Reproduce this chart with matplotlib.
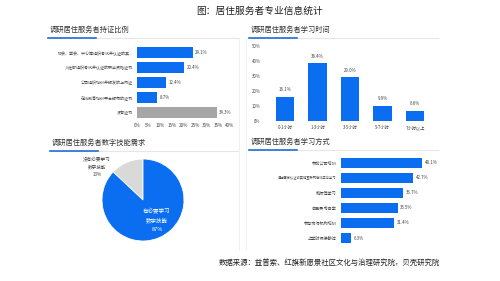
import matplotlib
matplotlib.use("Agg")
import matplotlib.pyplot as plt
from matplotlib.lines import Line2D
import numpy as np

plt.rcParams['font.family'] = ['Noto Sans CJK SC', 'DejaVu Sans']

# data
cert_labels = ['协会、学会、中心等组织考试并认证的其...', '人社部组织考试并认证的职业资格证书',
               '公司组织培训并颁发的上岗证', '在线教育培训平台颁布的证书', '没有证书']
cert_values = [24.1, 20.4, 12.4, 8.7, 34.3]
cert_ticks = [0, 5, 10, 15, 20, 25, 30, 35, 40]

time_labels = ['0-1小时', '1-3小时', '3-5小时', '5-7小时', '7小时以上']
time_values = [16.1, 38.4, 29.0, 9.9, 6.6]
time_ticks = [0, 10, 20, 30, 40, 50]

pie_labels = ['没有必要学习\n数字技能\n13%', '有必要学习\n数字技能\n87%']
pie_values = [13, 87]

way_labels = ['参加公司培训', '通过国家认证或其他互联网在线平台学习', '和师傅学习',
              '自己买书自学', '参与市场机构培训', '上学时候接触过']
way_values = [48.1, 42.7, 36.7, 33.5, 31.4, 6.3]

BLUE = '#0b6ef0'
GREY = '#a6a6a6'
TXT = '#444444'

W, H = 500, 281
fig = plt.figure(figsize=(5, 2.81), dpi=100)


def px_axes(x0, y0, x1, y1):
    # pixel box (top-left origin) -> figure axes
    return fig.add_axes([x0 / W, 1 - y1 / H, (x1 - x0) / W, (y1 - y0) / H])


def fig_line(x0, x1, y, color, lw):
    fig.add_artist(Line2D([x0 / W, x1 / W], [1 - y / H, 1 - y / H],
                          color=color, lw=lw, transform=fig.transFigure))


def header(text, x, y, x_end):
    fig.text(x / W, 1 - y / H, text, fontsize=5.2, color='#333333', va='center', ha='left')
    fig_line(x - 2, x_end, y + 8, '#e6e6e6', 0.8)
    fig_line(x - 2, x + 46, y + 8, '#1f6fd6', 1.2)


fig.text(260 / W, 1 - 11 / H, '图：居住服务者专业信息统计', fontsize=7, color='#222222',
         ha='center', va='center')

header('调研居住服务者持证比例', 50, 30, 238)
header('调研居住服务者学习时间', 251, 30, 438)
header('调研居住服务者数字技能需求', 52, 143, 238)
header('调研居住服务者学习方式', 251, 142, 438)

# light card borders
for xb in (239, 246):
    fig.add_artist(Line2D([xb / W, xb / W], [1 - 38 / H, 1 - 250 / H], color='#eeeeee', lw=0.6,
                          transform=fig.transFigure))

# panel 1: certificates
ax1 = px_axes(137, 45.2, 230, 120.2)
y = np.arange(len(cert_values))
colors = [BLUE] * (len(cert_values) - 1) + [GREY]
ax1.barh(y, cert_values, height=0.74, color=colors)
ax1.set_xlim(0, 40)
ax1.set_ylim(len(cert_values) - 0.5, -0.5)
ax1.set_xticks(cert_ticks)
ax1.set_xticklabels([f'{t}%' for t in cert_ticks])
ax1.set_yticks(y)
ax1.set_yticklabels(cert_labels)
for yi, v in zip(y, cert_values):
    ax1.text(v + 1, yi, f'{v}%', fontsize=3.2, color=TXT, va='center')
ax1.tick_params(axis='x', length=0, labelsize=3.3, labelcolor=TXT, pad=2)
ax1.tick_params(axis='y', length=0, labelsize=2.9, labelcolor=TXT, pad=3)
for s in ax1.spines.values():
    s.set_visible(False)

# panel 2: study time
ax2 = px_axes(268.75, 45.7, 431.25, 120.7)
x = np.arange(len(time_values))
ax2.bar(x, time_values, width=0.56, color=BLUE)
ax2.set_ylim(0, 50)
ax2.set_xlim(-0.5, len(time_values) - 0.5)
ax2.set_yticks(time_ticks)
ax2.set_yticklabels([f'{t}%' for t in time_ticks])
ax2.set_xticks(x)
ax2.set_xticklabels(time_labels)
for xi, v in zip(x, time_values):
    ax2.text(xi, v + 3, f'{v:.1f}%', fontsize=3.2, color=TXT, ha='center', va='bottom')
ax2.tick_params(axis='x', length=0, labelsize=3.1, labelcolor=TXT, pad=3)
ax2.tick_params(axis='y', length=0, labelsize=3.1, labelcolor=TXT, pad=6)
for s in ax2.spines.values():
    s.set_visible(False)
ax2.axhline(0, color='#dddddd', lw=0.6)

# panel 3: pie
ax3 = px_axes(102, 159, 184, 241)
ax3.pie(pie_values, colors=['#d9d9d9', BLUE], startangle=90, counterclock=True,
        wedgeprops=dict(edgecolor='white', linewidth=0.6))
ax3.set_xlim(-1, 1)
ax3.set_ylim(-1, 1)
ax3.text(-1.12, 0.80, pie_labels[0], fontsize=3.3, color=TXT, ha='center', va='center',
         linespacing=1.6)
ax3.text(0.34, -0.49, pie_labels[1], fontsize=4.0, color='white', ha='center', va='center',
         linespacing=1.7)

# panel 4: study ways
ax4 = px_axes(340.7, 155.1, 425.7, 245.6)
y = np.arange(len(way_values))
ax4.barh(y, way_values, height=0.66, color=BLUE)
ax4.set_xlim(0, 50)
ax4.set_ylim(len(way_values) - 0.5, -0.5)
ax4.set_yticks(y)
ax4.set_yticklabels(way_labels)
ax4.set_xticks([])
for yi, v in zip(y, way_values):
    ax4.text(v + 1.5, yi, f'{v}%', fontsize=3.2, color=TXT, va='center')
ax4.tick_params(axis='y', length=0, labelsize=3.0, labelcolor=TXT, pad=3)
for lab in ax4.get_yticklabels():
    if len(lab.get_text()) > 12:
        lab.set_fontsize(2.3)
for s in ax4.spines.values():
    s.set_visible(False)

fig.text(219 / W, 1 - 263 / H, '数据来源：益普索、红旗新愿景社区文化与治理研究院，贝壳研究院',
         fontsize=5.3, color='#222222', ha='left', va='center')

fig.savefig('out.png', dpi=100, facecolor='white')
